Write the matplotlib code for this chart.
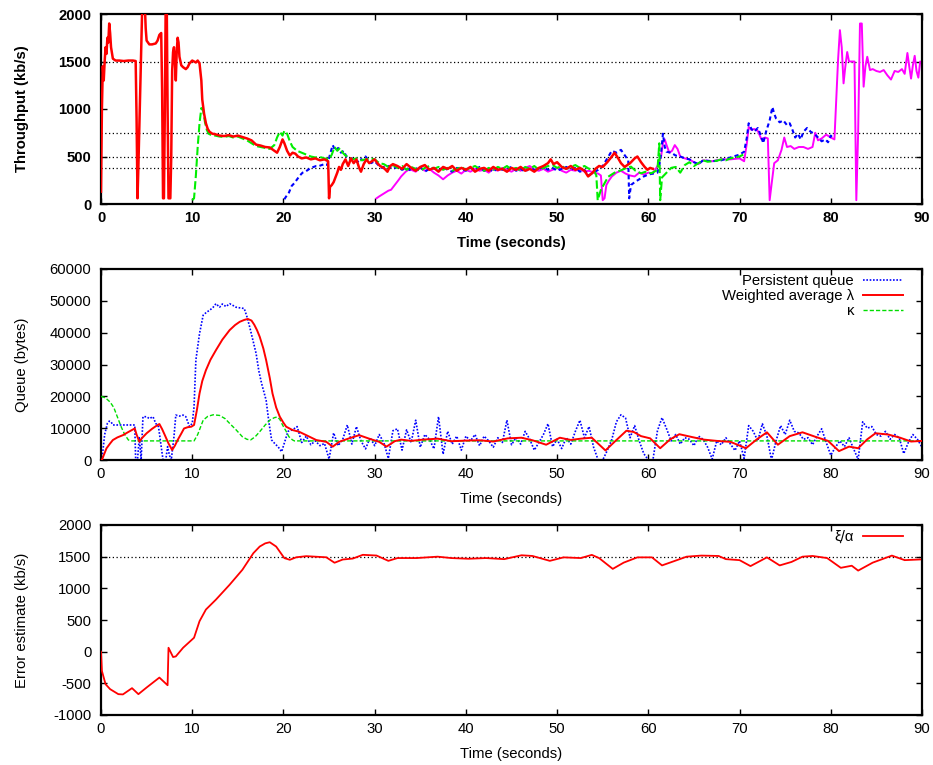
import numpy as np
import matplotlib
matplotlib.use("Agg")
import matplotlib.pyplot as plt

plt.rcParams['font.family'] = ['Liberation Sans', 'DejaVu Sans']
plt.rcParams['axes.unicode_minus'] = False

# ---------------- Top panel: throughput of four flows (t seconds, kb/s) -------------
thr_red = [(0.0,130),(0.1,1000),(0.2,1450),(0.3,1300),(0.4,1500),(0.5,1650),(0.6,1580),(0.7,1750),
 (0.8,1700),(0.9,1900),(1.0,1800),(1.1,1650),(1.3,1530),(1.6,1510),(2.0,1510),(2.5,1505),(3.0,1510),
 (3.5,1510),(3.8,1505),(3.9,900),(4.0,60),(4.1,400),(4.3,1200),(4.5,2000),(4.6,2200),(4.8,2100),
 (4.9,1850),(5.0,1720),(5.3,1680),(5.6,1680),(6.0,1690),(6.2,1720),(6.4,1780),(6.6,1800),(6.7,1200),
 (6.8,60),(6.9,60),(7.0,1000),(7.1,2200),(7.2,2200),(7.3,1000),(7.4,60),(7.6,60),(7.7,500),(7.8,1400),
 (7.9,1600),(8.0,1650),(8.1,1500),(8.2,1300),(8.3,1600),(8.4,1750),(8.5,1700),(8.6,1550),(8.8,1460),
 (9.0,1440),(9.3,1420),(9.5,1440),(9.7,1480),(10.0,1510),(10.2,1500),(10.4,1490),(10.6,1510),
 (10.8,1480),(11.0,1300),(11.1,1100),(11.3,950),(11.5,850),(11.7,790),(11.9,760),(12.2,740),(12.5,735),
 (13.0,720),(13.5,715),(14.0,725),(14.5,710),(15.0,720),(15.5,705),(16.0,690),(16.5,670),(17.0,625),
 (17.5,615),(18.0,600),(18.5,595),(19.0,560),(19.3,540),(19.6,600),(19.9,680),(20.1,640),(20.4,560),
 (20.7,510),(21.0,540),(21.3,530),(21.6,500),(22.0,480),(22.5,490),(23.0,470),(23.5,480),(24.0,460),
 (24.5,470),(24.9,450),(25.0,60),(25.1,180),(25.3,200),(25.5,230),(25.7,280),(25.9,330),(26.1,390),
 (26.3,360),(26.5,420),(26.8,470),(27.1,400),(27.4,480),(27.7,430),(28.0,470),(28.3,380),(28.5,340),
 (28.8,420),(29.1,470),(29.4,430),(29.7,450),(30.0,470),(30.3,430),(30.6,400),(31.0,380),(31.4,340),
 (31.7,400),(32.0,420),(32.5,400),(33.0,370),(33.5,420),(34.0,380),(34.5,350),(35.0,390),(35.5,410),
 (36.0,360),(36.5,380),(37.0,340),(37.5,390),(38.0,370),(38.5,400),(39.0,350),(39.5,380),(40.0,360),
 (40.5,390),(41.0,340),(41.5,370),(42.0,380),(42.5,350),(43.0,390),(43.5,360),(44.0,370),(44.5,340),
 (45.0,380),(45.5,360),(46.0,390),(46.5,350),(47.0,370),(47.5,340),(48.0,380),(48.5,400),(49.0,430),
 (49.3,470),(49.6,420),(50.0,440),(50.5,390),(51.0,370),(51.5,400),(52.0,360),(52.5,380),(53.0,350),
 (53.4,290),(53.9,330),(54.2,370),(54.6,400),(55.0,390),(55.5,440),(56.0,500),(56.3,540),(56.7,480),
 (57.0,430),(57.4,390),(58.0,430),(58.5,480),(58.8,500),(59.2,440),(59.6,390),(59.9,360),(60.2,380),
 (60.5,370)]

thr_green = [(10.0,40),(10.2,60),(10.4,300),(10.6,600),(10.8,850),(11.0,1010),(11.2,980),(11.4,860),
 (11.6,780),(11.8,740),(12.0,730),(12.5,720),(13.0,710),(13.5,705),(14.0,715),(14.5,700),(15.0,710),
 (15.5,690),(16.0,670),(16.5,640),(17.0,610),(17.5,600),(18.0,590),(18.5,580),(19.0,620),(19.3,700),
 (19.6,760),(19.9,720),(20.1,770),(20.4,740),(20.7,660),(21.0,600),(21.5,560),(22.0,540),(22.5,520),
 (23.0,500),(23.5,490),(24.0,495),(24.5,480),(25.0,470),(25.3,520),(25.6,600),(25.9,560),(26.2,590),
 (26.5,540),(26.8,510),(27.1,500),(27.5,470),(28.0,480),(28.5,460),(29.0,470),(29.5,480),(30.0,470),
 (30.5,430),(31.0,420),(31.5,390),(32.0,410),(32.5,380),(33.0,400),(33.5,360),(34.0,390),(34.5,370),
 (35.0,350),(35.5,380),(36.0,400),(36.5,370),(37.0,390),(37.5,360),(38.0,380),(38.5,350),(39.0,370),
 (39.5,390),(40.0,360),(40.5,380),(41.0,400),(41.5,370),(42.0,350),(42.5,380),(43.0,360),(43.5,390),
 (44.0,370),(44.5,400),(45.0,360),(45.5,380),(46.0,350),(46.5,390),(47.0,370),(47.5,400),(48.0,360),
 (48.5,380),(49.0,400),(49.5,410),(50.0,380),(50.5,400),(51.0,370),(51.5,390),(52.0,410),(52.5,380),
 (53.0,400),(53.5,370),(54.0,360),(54.3,300),(54.45,40),(54.8,150),(55.6,287),(56.3,330),(57.1,358),
 (57.6,380),(58.1,393),(58.6,350),(59.2,323),(59.7,340),(60.3,323),(61.0,358),(61.2,639),(61.3,40),
 (61.5,280),(62.0,330),(62.5,380),(63.0,390),(63.5,330),(64.0,410),(64.5,440),(65.0,400),(65.5,430),
 (66.0,460),(66.5,445),(67.0,450),(67.5,455),(68.0,470),(68.5,460),(69.0,480),(69.5,490),(70.0,500),
 (70.4,520)]

thr_blue = [(20.1,50),(20.3,80),(20.6,120),(20.9,190),(21.2,220),(21.5,260),(21.8,300),(22.1,330),
 (22.4,340),(22.7,360),(23.0,380),(23.3,390),(23.6,400),(23.9,400),(24.2,410),(24.5,420),(24.8,410),
 (25.1,520),(25.4,620),(25.7,560),(26.0,590),(26.3,540),(26.6,560),(26.9,500),(27.2,470),(27.5,480),
 (27.8,460),(28.1,440),(28.4,480),(28.7,460),(29.0,500),(29.3,460),(29.6,430),(30.0,450),(30.4,410),
 (30.8,380),(31.2,400),(31.5,400),(32.0,370),(32.5,390),(33.0,360),(33.5,380),(34.0,350),(34.5,370),
 (35.0,390),(35.5,340),(36.0,370),(36.5,380),(37.0,350),(37.5,390),(38.0,360),(38.5,340),(39.0,380),
 (39.5,370),(40.0,350),(40.5,380),(41.0,360),(41.5,390),(42.0,350),(42.5,370),(43.0,340),(43.5,380),
 (44.0,360),(44.5,370),(45.0,390),(45.5,350),(46.0,370),(46.5,340),(47.0,380),(47.5,360),(48.0,370),
 (48.5,390),(49.0,360),(49.5,380),(50.0,350),(50.5,370),(51.0,390),(51.5,360),(52.0,380),(52.5,340),
 (53.0,360),(53.4,300),(54.0,330),(54.5,360),(55.0,400),(55.5,480),(56.0,560),(56.5,540),(57.0,570),
 (57.5,500),(57.8,460),(57.9,60),(58.1,200),(58.5,230),(59.0,260),(59.5,290),(60.0,310),(60.5,320),
 (61.0,330),(61.2,400),(61.4,540),(61.6,740),(61.8,600),(62.0,550),(62.5,540),(63.0,510),(63.5,500),
 (64.0,480),(64.5,470),(65.0,440),(65.5,420),(66.0,460),(67.0,450),(68.0,460),(69.0,490),(70.0,520),
 (70.5,550),(70.8,700),(71.0,850),(71.3,790),(71.6,760),(72.0,800),(72.3,730),(72.6,640),(72.9,760),
 (73.3,880),(73.6,1020),(73.8,950),(74.0,900),(74.4,860),(74.8,880),(75.2,830),(75.5,850),(75.8,780),
 (76.1,700),(76.4,740),(76.7,680),(77.0,760),(77.4,800),(77.8,760),(78.2,740),(78.6,700),(79.0,660),
 (79.4,680),(79.7,650),(80.0,720),(80.2,700)]

thr_magenta = [(30.2,60),(30.5,80),(31.0,110),(31.5,140),(31.8,150),(32.2,200),(32.6,250),(32.9,290),
 (33.2,320),(33.4,340),(33.7,360),(34.0,360),(34.5,340),(35.0,380),(35.5,350),(36.0,370),(36.5,330),
 (37.0,300),(37.5,260),(38.0,300),(38.5,330),(39.0,350),(39.5,320),(40.0,360),(40.5,340),(41.0,370),
 (41.5,350),(42.0,360),(42.5,330),(43.0,370),(43.5,350),(44.0,380),(44.5,360),(45.0,340),(45.5,370),
 (46.0,350),(46.5,380),(47.0,400),(47.5,360),(48.0,350),(48.5,370),(49.0,340),(49.5,360),(50.0,380),
 (50.5,350),(51.0,330),(51.5,360),(52.0,350),(52.5,370),(53.0,340),(53.5,350),(54.0,330),(54.5,320),
 (54.8,300),(55.0,40),(55.2,60),(55.4,200),(55.7,250),(56.0,290),(56.5,330),(57.0,350),(57.5,320),
 (58.0,300),(58.5,290),(59.0,330),(59.5,310),(60.0,330),(60.5,320),(61.0,400),(61.4,500),(61.6,640),
 (61.8,680),(62.0,620),(62.3,540),(62.6,560),(62.9,620),(63.2,580),(63.5,500),(64.0,480),(64.5,470),
 (65.0,440),(65.5,420),(66.0,460),(67.0,450),(68.0,470),(69.0,470),(70.0,480),(70.5,450),(70.8,640),
 (71.0,810),(71.3,780),(71.6,790),(72.0,770),(72.4,680),(72.8,700),(73.1,690),(73.3,40),(73.5,200),
 (73.8,430),(74.2,460),(74.6,570),(74.9,700),(75.2,600),(75.6,610),(76.0,580),(76.5,600),(77.0,600),
 (77.5,580),(78.0,600),(78.3,750),(78.6,670),(79.0,690),(79.5,730),(80.0,700),(80.4,680),(80.8,1520),
 (81.0,1830),(81.2,1650),(81.4,1270),(81.6,1450),(81.8,1600),(82.0,1500),(82.3,1500),(82.6,1500),
 (82.8,40),(83.0,750),(83.2,1900),(83.4,1900),(83.6,1235),(83.8,1450),(84.0,1550),(84.3,1410),
 (84.6,1420),(85.0,1400),(85.4,1390),(85.8,1410),(86.2,1355),(86.6,1310),(87.0,1400),(87.4,1390),
 (87.8,1420),(88.1,1370),(88.4,1590),(88.6,1450),(88.8,1320),(89.0,1460),(89.2,1560),(89.4,1400),
 (89.6,1330),(89.8,1500),(90.0,1480)]

thr_reflines = [1500, 750, 500, 375]

# ---------------- Middle panel: queue (bytes) -----------------
persistent_queue = [(0.0,0),(0.1,0),(0.4,8000),(0.7,11500),(0.9,12200),(1.1,12000),(1.3,11000),
 (2.0,11000),(2.9,11000),(3.7,11000),(3.8,0),(4.0,0),(4.2,7300),(4.4,0),(4.6,13600),(5.0,13600),
 (5.3,13000),(5.7,13600),(6.0,11500),(6.3,10500),(6.6,4200),(6.8,0),(7.1,0),(7.3,4200),(7.5,1500),
 (7.7,0),(8.0,7300),(8.2,14100),(8.6,13800),(9.0,14100),(9.3,13600),(9.7,10500),(10.0,11500),
 (10.2,16700),(10.4,31400),(10.8,39700),(11.2,45500),(11.6,46500),(11.9,47000),(12.3,48000),
 (12.6,49100),(13.0,48000),(13.3,49000),(13.7,48200),(14.1,49100),(14.5,48500),(14.8,48000),
 (15.2,47800),(15.7,47600),(16.0,45000),(16.3,41800),(16.7,37000),(17.0,33500),(17.3,28000),
 (17.6,24100),(18.1,18800),(18.4,12000),(18.7,6300),(19.1,5000),(19.4,4200),(19.8,2600),(20.2,6300),
 (20.5,9000),(21.0,9500),(21.5,10500),(22.0,5500),(22.5,7500),(23.0,4800),(23.5,6000),(24.0,4500),
 (24.5,5200),(25.0,300),(25.5,8500),(26.0,4500),(26.5,6500),(27.0,11000),(27.5,5000),(28.0,10500),
 (28.5,6000),(29.0,3500),(29.5,7000),(30.0,4500),(30.5,8000),(31.0,5500),(31.5,500),(32.0,9200),
 (32.5,9800),(33.0,3100),(33.5,9500),(34.0,5500),(34.5,12500),(35.0,4000),(35.5,8000),(36.0,6500),
 (36.5,3500),(37.0,13600),(37.5,1800),(38.0,9000),(38.5,5000),(39.0,7500),(39.5,3100),(40.0,7500),
 (40.5,6000),(41.0,8000),(41.5,4500),(42.0,7500),(42.5,6000),(43.0,4000),(43.5,7000),(44.0,5500),
 (44.5,12500),(45.0,4800),(45.5,7000),(46.0,5000),(46.5,9000),(47.0,6500),(47.5,3100),(48.0,5500),
 (48.5,8000),(49.0,11400),(49.5,4200),(50.0,6500),(50.5,3600),(51.0,7000),(51.5,5000),(52.0,9000),
 (52.5,12500),(53.0,7000),(53.5,10500),(54.0,4000),(54.5,0),(55.0,0),(55.5,3000),(56.0,6500),
 (56.5,12000),(57.0,14200),(57.5,13200),(58.0,7000),(58.5,10800),(59.0,6000),(59.5,2000),(60.0,0),
 (60.5,0),(61.0,9200),(61.5,13300),(62.0,9800),(62.5,6000),(63.0,8000),(63.5,5000),(64.0,7000),
 (64.5,6500),(65.0,4500),(65.5,7500),(66.0,6500),(66.5,4000),(67.0,300),(67.5,6000),(68.0,4800),
 (68.5,7000),(69.0,5000),(69.5,3000),(70.0,6000),(70.5,500),(71.0,10800),(71.5,9000),(72.0,6000),
 (72.5,11400),(73.0,7500),(73.5,0),(74.0,6000),(74.5,10800),(75.0,8000),(75.5,12500),(76.0,9000),
 (76.5,8500),(77.0,6500),(77.5,7000),(78.0,4800),(78.5,7500),(79.0,9800),(79.5,5500),(80.0,1500),
 (80.5,4000),(81.0,6000),(81.5,4200),(82.0,7000),(82.5,3500),(83.0,200),(83.5,12000),(84.0,10000),
 (84.5,10500),(85.0,8000),(85.5,7500),(86.0,9000),(86.5,6500),(87.0,8000),(87.5,7000),(88.0,2000),
 (88.5,5500),(89.0,8000),(89.5,6500),(90.0,4000)]

weighted_avg = [(0.0,0),(0.1,0),(0.3,1500),(0.6,3660),(1.0,5200),(1.3,6270),(1.8,7100),(2.4,7800),
 (3.0,8800),(3.7,9900),(3.9,8000),(4.2,5750),(4.5,6900),(5.0,8400),(5.6,9800),(6.0,10600),(6.4,11300),
 (6.7,9700),(7.0,7800),(7.4,5200),(7.8,3140),(8.1,4500),(8.4,6270),(8.8,8300),(9.1,9900),(9.5,10300),
 (9.9,10460),(10.2,11000),(10.5,15500),(10.8,20900),(11.1,24800),(11.5,28200),(12.0,31500),
 (12.6,34500),(13.3,37800),(14.1,40800),(14.7,42400),(15.2,43400),(15.7,44000),(16.1,44300),
 (16.5,43800),(16.8,42500),(17.1,40800),(17.4,38700),(17.8,35000),(18.1,31400),(18.5,25800),
 (18.8,20900),(19.2,16500),(19.6,13600),(20.0,11700),(20.3,10460),(21.0,9400),(21.7,8900),(22.5,7800),
 (23.6,6270),(24.7,5700),(25.4,4180),(26.1,5700),(27.2,6800),(28.3,7800),(29.4,6700),(30.5,5700),
 (31.3,4200),(32.2,5900),(32.9,6400),(34.0,6000),(35.3,6400),(36.9,6700),(38.4,5900),(40.0,6100),
 (41.5,6200),(43.0,5800),(44.6,6800),(46.1,7000),(47.3,6200),(48.8,4800),(50.3,7000),(51.5,6300),
 (52.6,6700),(53.8,7000),(55.3,3000),(56.4,6000),(57.6,9200),(58.4,8800),(59.2,7500),(60.2,6800),
 (61.3,3700),(62.4,6500),(63.4,8100),(64.8,7200),(66.1,6400),(67.5,6000),(69.0,5700),(70.7,3700),
 (71.9,6500),(73.0,8700),(74.2,4800),(75.5,7500),(76.9,8700),(78.4,7200),(79.7,6000),(80.9,2800),
 (82.0,4200),(83.0,3700),(84.0,6500),(84.9,8400),(86.3,8000),(87.6,7000),(88.8,5800),(90.0,6000)]

kappa = [(0.0,20000),(0.5,19500),(1.0,18200),(1.4,16500),(1.8,13500),(2.2,10500),(2.6,8000),
 (3.0,6300),(3.3,6000),(10.2,6000),(10.6,8000),(11.2,12500),(11.7,13700),(12.3,14200),(13.0,14000),
 (13.6,13000),(14.1,11500),(14.8,9500),(15.5,7300),(16.0,6500),(16.4,6300),(16.9,7300),(17.4,8900),
 (18.0,11000),(18.5,12500),(19.0,13300),(19.3,13500),(19.6,12800),(19.9,11000),(20.3,9000),
 (20.6,7300),(21.0,6300),(21.2,6000),(90.0,6000)]

# ---------------- Bottom panel: error estimate (kb/s) -----------------
xi_alpha = [(0.0,0),(0.1,-305),(0.5,-514),(1.0,-592),(1.9,-671),(2.4,-675),(3.4,-576),(4.1,-671),
 (5.0,-566),(6.4,-409),(7.3,-530),(7.4,62),(7.9,-85),(8.2,-75),(9.0,62),(10.2,220),(10.8,481),
 (11.5,665),(12.6,822),(14.1,1057),(15.5,1293),(16.7,1555),(17.4,1660),(18.0,1710),(18.5,1728),
 (19.2,1660),(20.1,1477),(20.7,1451),(21.4,1490),(22.5,1508),(24.7,1490),(25.6,1404),(26.5,1455),
 (27.6,1470),(28.7,1529),(30.2,1518),(31.5,1434),(32.5,1478),(34.6,1478),(36.9,1500),(38.4,1478),
 (40.3,1467),(42.2,1478),(44.2,1461),(46.1,1522),(47.3,1511),(49.2,1434),(50.7,1489),(52.6,1478),
 (53.8,1528),(54.6,1478),(56.1,1307),(57.3,1406),(58.8,1489),(60.4,1489),(61.5,1362),(62.7,1423),
 (64.2,1500),(65.8,1517),(67.7,1511),(68.5,1461),(70.0,1445),(71.2,1351),(73.0,1489),(74.4,1362),
 (75.7,1417),(76.9,1500),(78.0,1511),(79.6,1478),(81.1,1324),(82.3,1357),(83.0,1280),(84.6,1406),
 (86.7,1517),(88.1,1445),(89.8,1456)]
err_refline = 1500

FS = 10.7

def unzip(pts):
    a = np.array(pts, dtype=float)
    return a[:, 0], a[:, 1]

def style(ax, bold=False):
    w = 'bold' if bold else 'normal'
    ax.tick_params(direction='in', top=True, right=True, length=4, width=1.0,
                   labelsize=FS, pad=5)
    ax.tick_params(axis='y', pad=7)
    for lab in ax.get_xticklabels() + ax.get_yticklabels():
        lab.set_fontweight(w)
    for s in ax.spines.values():
        s.set_linewidth(1.6)
    ax.set_xlim(0, 90)
    ax.set_xticks(range(0, 91, 10))
    ax.set_xlabel('Time (seconds)', fontsize=FS, fontweight='bold' if bold else 'normal')
    ax.xaxis.set_label_coords(0.5, -0.17)
    ax.yaxis.set_label_coords(-0.088, 0.5)

fig = plt.figure(figsize=(9.33, 7.65), dpi=100)
W, H = 933.0, 765.0
ax1 = fig.add_axes([101/W, 1-204/H, 821/W, 190/H])
ax2 = fig.add_axes([101/W, 1-460/H, 821/W, 191/H])
ax3 = fig.add_axes([101/W, 1-715/H, 821/W, 190/H])

# top
for y in thr_reflines:
    ax1.axhline(y, color='black', lw=0.9, ls=(0, (1, 2)), zorder=1)
t, v = unzip(thr_red);     ax1.plot(t, v, color='#ff0000', lw=1.8, zorder=5)
t, v = unzip(thr_green);   ax1.plot(t, v, color='#00ee00', lw=1.5, ls=(0, (4, 1.5)), zorder=4)
t, v = unzip(thr_blue);    ax1.plot(t, v, color='#0000ff', lw=1.5, ls=(0, (2, 1.5)), zorder=3)
t, v = unzip(thr_magenta); ax1.plot(t, v, color='#ff00ff', lw=1.4, zorder=2)
ax1.set_ylim(0, 2000)
ax1.set_yticks([0, 500, 1000, 1500, 2000])
ax1.set_ylabel('Throughput (kb/s)', fontsize=FS, fontweight='bold')
style(ax1, bold=True)

# middle
t, v = unzip(persistent_queue)
ax2.plot(t, v, color='#0000ff', lw=1.2, ls=(0, (1, 1)), label='Persistent queue', zorder=2)
t, v = unzip(weighted_avg)
ax2.plot(t, v, color='#ff0000', lw=1.4, label='Weighted average λ', zorder=4)
t, v = unzip(kappa)
ax2.plot(t, v, color='#00dd00', lw=1.0, ls=(0, (3, 1.5)), label='κ', zorder=3)
ax2.set_ylim(0, 60000)
ax2.set_yticks(range(0, 60001, 10000))
ax2.set_ylabel('Queue (bytes)', fontsize=FS)
style(ax2)
ax2.legend(loc='upper right', bbox_to_anchor=(0.977, 0.974), borderaxespad=0, borderpad=0,
           frameon=False, markerfirst=False, fontsize=FS, handlelength=2.7,
           handletextpad=0.6, labelspacing=0.08)

# bottom
ax3.axhline(err_refline, color='black', lw=0.9, ls=(0, (1, 2)), zorder=1)
t, v = unzip(xi_alpha)
ax3.plot(t, v, color='#ff0000', lw=1.3, label='ξ/α', zorder=3)
ax3.set_ylim(-1000, 2000)
ax3.set_yticks(range(-1000, 2001, 500))
ax3.set_ylabel('Error estimate (kb/s)', fontsize=FS)
style(ax3)
ax3.legend(loc='upper right', bbox_to_anchor=(0.977, 0.975), borderaxespad=0, borderpad=0,
           frameon=False, markerfirst=False, fontsize=FS, handlelength=2.7, handletextpad=0.6)

fig.savefig('out.png', dpi=100)
